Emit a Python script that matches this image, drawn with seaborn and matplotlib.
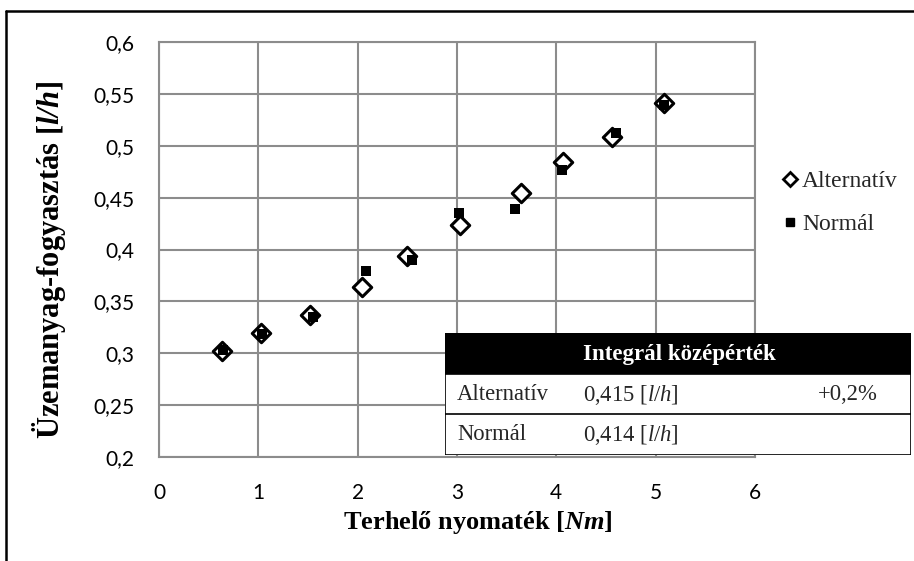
import numpy as np
import pandas as pd
import matplotlib
matplotlib.use("Agg")
import matplotlib.pyplot as plt
import seaborn as sns
from matplotlib.lines import Line2D
from matplotlib.patches import Rectangle
from matplotlib.ticker import FuncFormatter

# adatok
nyomatek_alt = [0.635, 1.03, 1.52, 2.04, 2.50, 3.03, 3.64, 4.07, 4.56, 5.08]
fogyasztas_alt = [0.302, 0.3195, 0.337, 0.364, 0.394, 0.4236, 0.4545, 0.484, 0.508, 0.541]
nyomatek_norm = [0.64, 1.04, 1.55, 2.08, 2.55, 3.02, 3.58, 4.06, 4.60, 5.08]
fogyasztas_norm = [0.303, 0.319, 0.335, 0.379, 0.390, 0.435, 0.439, 0.4765, 0.512, 0.539]

sorozatok = ['Alternatív', 'Normál']
x_ticks = [0, 1, 2, 3, 4, 5, 6]
y_ticks = [0.2, 0.25, 0.3, 0.35, 0.4, 0.45, 0.5, 0.55, 0.6]

tabla_fejlec = 'Integrál középérték'
tabla_nevek = ['Alternatív', 'Normál']
tabla_ertekek = ['0,415 [$\\mathit{l/h}$]', '0,414 [$\\mathit{l/h}$]']
tabla_elteres = ['+0,2%', '']

df = pd.DataFrame({
    'nyomatek': nyomatek_alt + nyomatek_norm,
    'fogyasztas': fogyasztas_alt + fogyasztas_norm,
    'sorozat': [sorozatok[0]] * len(nyomatek_alt) + [sorozatok[1]] * len(nyomatek_norm),
})

sns.set_theme(style="whitegrid")
plt.rcParams['font.family'] = ['Liberation Serif', 'DejaVu Serif']
plt.rcParams['mathtext.fontset'] = 'custom'
plt.rcParams['mathtext.rm'] = 'Liberation Serif'
plt.rcParams['mathtext.it'] = 'Liberation Serif:italic'
plt.rcParams['mathtext.bf'] = 'Liberation Serif:bold'
plt.rcParams['mathtext.bfit'] = 'Liberation Serif:bold:italic'

racs = '#8c8c8c'
fig = plt.figure(figsize=(9.14, 5.61), dpi=100)
ax = fig.add_axes([159 / 914, 1 - 457 / 561, 596 / 914, 415 / 561])
ax.set_facecolor('white')

sns.scatterplot(data=df[df.sorozat == sorozatok[0]], x='nyomatek', y='fogyasztas', ax=ax,
                marker='D', s=88, facecolor='white', edgecolor='black', linewidth=2.2,
                legend=False, zorder=3)
sns.scatterplot(data=df[df.sorozat == sorozatok[1]], x='nyomatek', y='fogyasztas', ax=ax,
                marker='s', s=52, color='black', edgecolor='black', linewidth=0,
                legend=False, zorder=4)

ax.set_xlim(0, 6)
ax.set_ylim(0.2, 0.6)
ax.set_xticks(x_ticks)
ax.set_yticks(y_ticks)
ax.yaxis.set_major_formatter(FuncFormatter(lambda v, p: ('%g' % round(v, 2)).replace('.', ',')))
ax.grid(True, color=racs, linewidth=1.5)
for s in ax.spines.values():
    s.set_color(racs)
    s.set_linewidth(1.5)
ax.tick_params(length=0, labelsize=15, labelcolor='black')
ax.tick_params(axis='x', pad=19)
ax.tick_params(axis='y', pad=18)
for lab in ax.get_xticklabels() + ax.get_yticklabels():
    lab.set_family(['Lato', 'DejaVu Sans'])

ax.set_xlabel('Terhelő nyomaték [$\\mathbfit{Nm}$]', fontsize=19, fontweight='bold', color='black')
ax.set_ylabel('Üzemanyag-fogyasztás [$\\mathbfit{l/h}$]', fontsize=22, fontweight='bold', color='black')
ax.xaxis.set_label_coords(0.535, -0.126)
ax.yaxis.set_label_coords(-0.152, 0.474)

handles = [
    Line2D([], [], marker='D', ls='none', ms=7, mfc='white', mec='black', mew=2.0),
    Line2D([], [], marker='s', ls='none', ms=6, mfc='black', mec='black'),
]
fig.legend(handles, sorozatok, loc='center left', bbox_to_anchor=(770 / 914, 1 - 203 / 561),
           frameon=False, fontsize=17, handlelength=0.7, handletextpad=0.15,
           labelspacing=0.9, borderpad=0)

# táblázat
tx = fig.add_axes([445 / 914, 1 - 455 / 561, 466 / 914, 122 / 561])
tx.set_xlim(445, 911)
tx.set_ylim(455, 333)
tx.axis('off')
tx.add_patch(Rectangle((445, 333), 466, 122, facecolor='white', edgecolor='black', lw=1.2))
tx.add_patch(Rectangle((445, 333), 466, 41, facecolor='black', edgecolor='black', lw=1.2))
tx.plot([445, 911], [414, 414], color='black', lw=1.2)
tx.text(679, 355, tabla_fejlec, color='white', fontsize=16.5, fontweight='bold', ha='center', va='center')
for i, sor_y in enumerate([395, 435]):
    tx.text(457, sor_y, tabla_nevek[i], fontsize=16.3, ha='left', va='center')
    tx.text(583, sor_y, tabla_ertekek[i], fontsize=16.3, ha='left', va='center')
    tx.text(818, sor_y, tabla_elteres[i], fontsize=16.3, ha='left', va='center')

# keret
fig.add_artist(Line2D([6 / 914, 6 / 914], [0, 1 - 11 / 561], color='black', lw=1.8))
fig.add_artist(Line2D([6 / 914, 1], [1 - 11 / 561, 1 - 11 / 561], color='black', lw=1.8))

fig.savefig('out.png', dpi=100)
